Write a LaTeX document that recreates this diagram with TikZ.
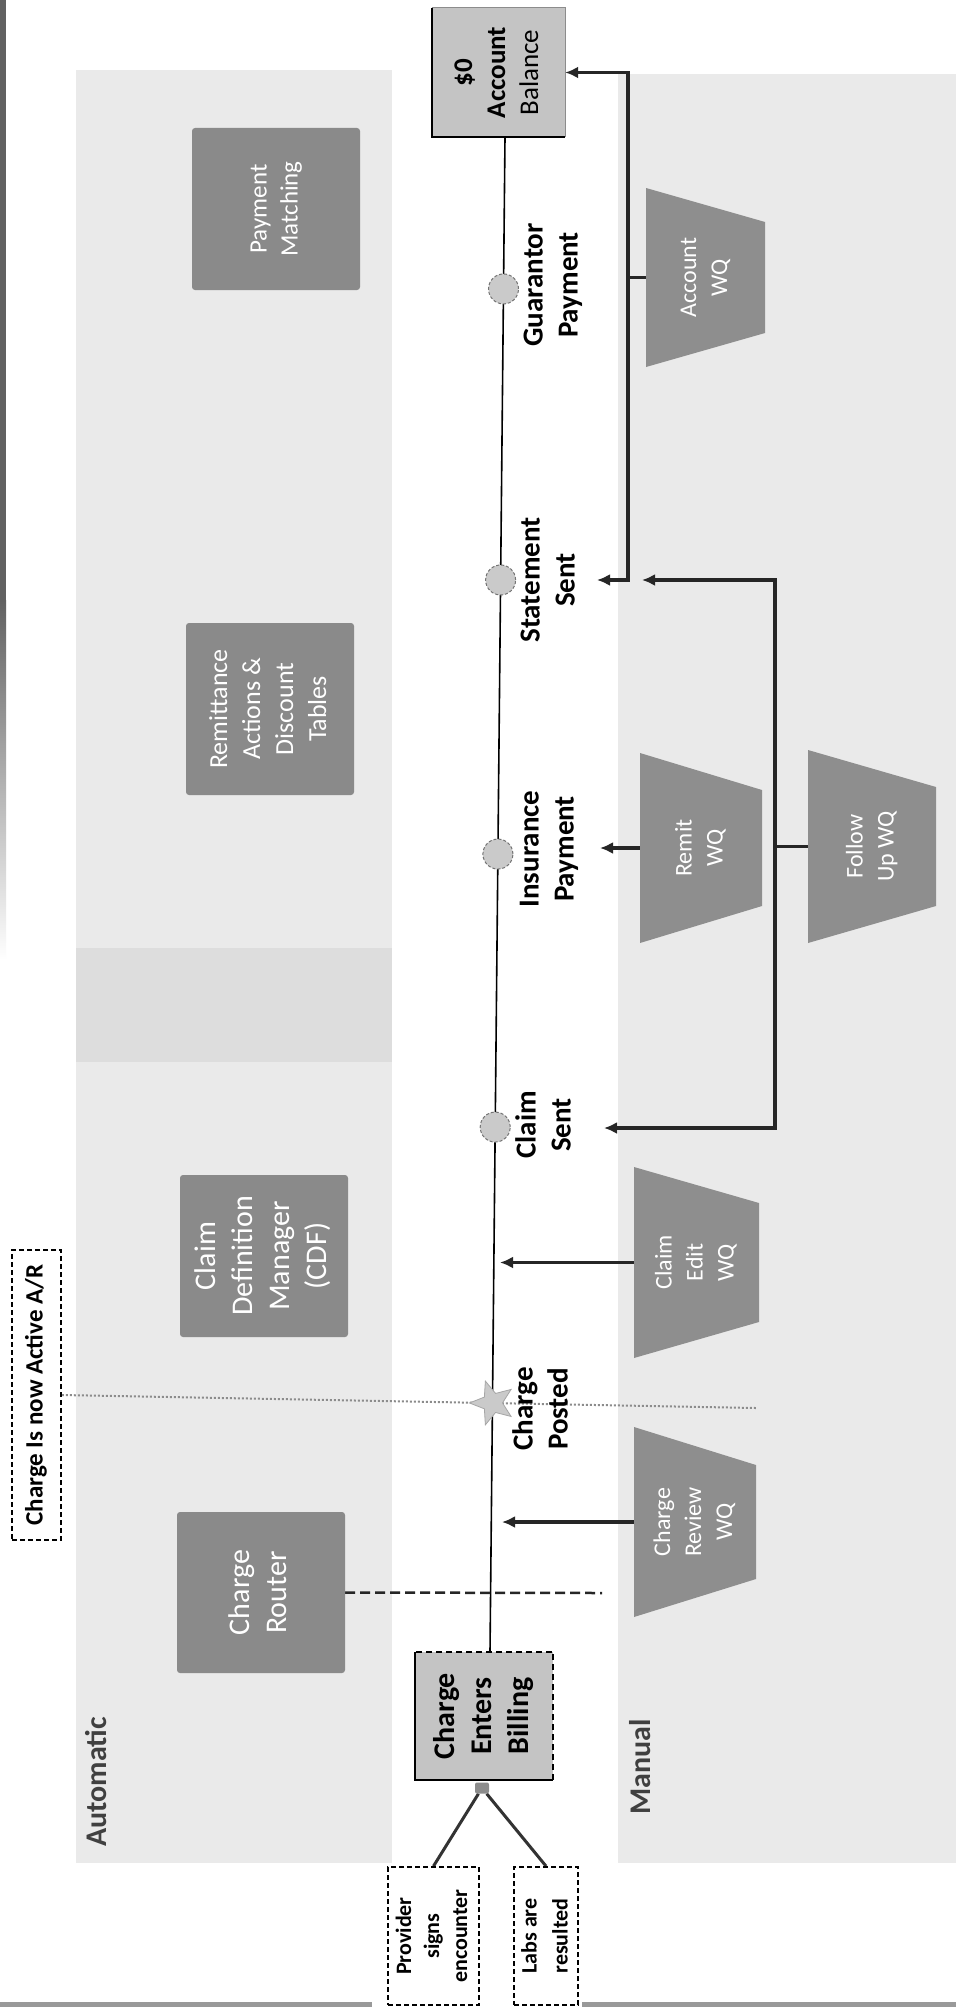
\documentclass[tikz,border=0pt]{standalone}
\usepackage{graphicx}
\usepackage{fontspec}
\setmainfont{Carlito}
\usetikzlibrary{arrows.meta,shapes.geometric,calc}
\pgfdeclarelayer{bg}
\pgfsetlayers{bg,main}
\definecolor{boxgray}{RGB}{138,138,138}
\definecolor{trapgray}{RGB}{142,142,142}
\definecolor{lanegray}{RGB}{234,234,234}
\definecolor{laneband}{RGB}{221,221,221}
\definecolor{lightbox}{RGB}{196,196,196}
\definecolor{msgray}{RGB}{202,202,202}
\newcommand{\rtxt}[1]{\rotatebox{90}{\begin{tabular}{@{}c@{}}#1\end{tabular}}}
\begin{document}
\begin{tikzpicture}[x=1pt,y=-1pt,
  autobox/.style={fill=boxgray, rounded corners=3pt, text=white, inner sep=0pt},
  trapwq/.style={inner sep=0pt, text=white,
    path picture={\fill[trapgray] (path picture bounding box.south west) -- (path picture bounding box.north west) -- ([yshift=-#1]path picture bounding box.north east) -- ([yshift=#1]path picture bounding box.south east) -- cycle;}},
  dashbox/.style={draw=black, dashed, dash pattern=on 5pt off 3pt, line width=1.8pt, fill=white, inner sep=0pt},
  msdot/.style={circle, fill=msgray, draw=black!55, dashed, dash pattern=on 3pt off 2pt, line width=1pt, minimum size=30pt, inner sep=0pt},
  mslabel/.style={inner sep=0pt, font=\bfseries\fontsize{29}{35}\selectfont},
  arr/.style={line width=3.5pt, draw=black!85, -{Latex[length=13pt,width=12pt]}},
  conn/.style={line width=3.5pt, draw=black!85},
  timeline/.style={line width=1.6pt, draw=black},
  lanelabel/.style={inner sep=0pt, text=black!75, font=\bfseries\fontsize{30}{36}\selectfont}
]
\useasboundingbox (0,0) rectangle (956,2007);

% ---------- nodes ----------
% Automatic lane boxes
\node[autobox, minimum width=168pt, minimum height=162pt] (pm) at (276,209)
  {\fontsize{25}{31}\selectfont\rtxt{Payment\\Matching}};
\node[autobox, minimum width=168pt, minimum height=172pt] (rem) at (270,709)
  {\fontsize{26}{33}\selectfont\rtxt{Remittance\\Actions \&\\Discount\\Tables}};
\node[autobox, minimum width=168pt, minimum height=162pt] (cdf) at (264,1256)
  {\fontsize{30}{37}\selectfont\rtxt{Claim\\Definition\\Manager\\(CDF)}};
\node[autobox, minimum width=168pt, minimum height=161pt] (cr) at (261,1592.5)
  {\fontsize{30}{37}\selectfont\rtxt{Charge\\Router}};

% Manual lane work queues
\node[trapwq=34pt, minimum width=119pt, minimum height=179pt] (awq) at (705.5,277.5)
  {\fontsize{24}{31}\selectfont\rtxt{Account\\WQ}};
\node[trapwq=37pt, minimum width=122pt, minimum height=190pt] (rwq) at (701,848)
  {\fontsize{24}{31}\selectfont\rtxt{Remit\\WQ}};
\node[trapwq=37pt, minimum width=128pt, minimum height=193pt] (fwq) at (872,846.5)
  {\fontsize{24}{31}\selectfont\rtxt{Follow\\Up WQ}};
\node[trapwq=36pt, minimum width=125pt, minimum height=191pt] (cewq) at (696.5,1262.5)
  {\fontsize{24}{31}\selectfont\rtxt{Claim\\Edit\\WQ}};
\node[trapwq=38pt, minimum width=122pt, minimum height=190pt] (crwq) at (695,1522)
  {\fontsize{24}{31}\selectfont\rtxt{Charge\\Review\\WQ}};

% Start / end boxes
\node[fill=lightbox, inner sep=0pt, minimum width=133pt, minimum height=129pt] (ab) at (498.5,72.5)
  {\fontsize{27}{33}\selectfont\rtxt{\textbf{\$0}\\\textbf{Account}\\Balance}};
\draw[line width=2pt] (ab.north west) -- (ab.south west) -- (ab.south east);
\draw[line width=1pt, black!45] (ab.north west) -- (ab.north east) -- (ab.south east);

\node[fill=lightbox, inner sep=0pt, minimum width=138pt, minimum height=128pt] (ceb) at (484,1716)
  {\bfseries\fontsize{30}{37}\selectfont\rtxt{Charge\\Enters\\Billing}};
\draw[line width=2pt] (ceb.north west) -- (ceb.south west) -- (ceb.south east);
\draw[line width=1.6pt, dashed, dash pattern=on 6pt off 4pt] (ceb.south east) -- (ceb.north east) -- (ceb.north west);

\node[dashbox, minimum width=91pt, minimum height=138pt] (prov) at (433.5,1936)
  {\bfseries\fontsize{22}{28}\selectfont\rtxt{Provider\\signs\\encounter}};
\node[dashbox, minimum width=64pt, minimum height=138pt] (labs) at (546,1936)
  {\bfseries\fontsize{22}{31}\selectfont\rtxt{Labs are\\resulted}};
\node[dashbox, minimum width=49pt, minimum height=290pt] (ciar) at (36.5,1395)
  {\bfseries\fontsize{25}{30}\selectfont\rtxt{Charge Is now Active A/R}};

\node[fill=black!45, rounded corners=2pt, minimum width=14pt, minimum height=11pt, inner sep=0pt] (jd) at (482,1788) {};

% lane labels
\node[lanelabel] (autol) at (96,1782) {\rotatebox{90}{Automatic}};
\node[lanelabel] (manl) at (640,1767) {\rotatebox{90}{Manual}};

% timeline milestones
\coordinate (tltop) at (505,137);
\coordinate (tlbot) at (490,1652);
\node[msdot] (gp) at ($(tltop)!0.1003!(tlbot)$) {};
\node[msdot] (ss) at ($(tltop)!0.2924!(tlbot)$) {};
\node[msdot] (ip) at ($(tltop)!0.4733!(tlbot)$) {};
\node[msdot] (cs) at ($(tltop)!0.6535!(tlbot)$) {};
\node[star, star points=5, star point ratio=2.3, minimum size=46pt, inner sep=0pt,
  fill=msgray, draw=black!35, line width=0.8pt, shape border rotate=90] (cp) at ($(tltop)!0.8356!(tlbot)$) {};

\node[mslabel] (gpl) at (553,285) {\rtxt{Guarantor\\Payment}};
\node[mslabel] (ssl) at (550,580) {\rtxt{Statement\\Sent}};
\node[mslabel] (ipl) at (549,849) {\rtxt{Insurance\\Payment}};
\node[mslabel] (csl) at (546,1125) {\rtxt{Claim\\Sent}};
\node[mslabel] (cpl) at (543,1409) {\rtxt{Charge\\Posted}};

% ---------- background layer ----------
\begin{pgfonlayer}{bg}
  \fill[white] (0,0) rectangle (956,2007);
  \fill[black!62] (0,0) rectangle (6,600);
  \shade[top color=black!62, bottom color=white] (0,600) rectangle (6,960);
  \fill[black!40] (0,2002) rectangle (372,2007);
  \fill[black!40] (582,2002) rectangle (956,2007);
  \fill[lanegray] (76,70) rectangle (392,1863);
  \fill[laneband] (76,948) rectangle (392,1062);
  \fill[lanegray] (618,74) rectangle (956,1863);
  \draw[timeline] (tltop) -- (tlbot);
  \coordinate (dotend) at (756,1408);
  \draw[black!45, line width=2pt, dotted] (ciar.east) -- (dotend);
  \coordinate (dashend) at (602,1593);
  \draw[black!85, line width=2.5pt, dashed, dash pattern=on 10pt off 5pt] (cr.east) -- (dashend);
  \draw[black!80, line width=3pt] (jd) -- (prov.north);
  \draw[black!80, line width=3pt] (jd) -- (labs.north);
\end{pgfonlayer}

% ---------- connectors ----------
\coordinate (jA) at (628,277.5);
\draw[conn] (awq.west) -- (jA);
\draw[arr] (jA) |- (ab.east);
\coordinate (tipSSa) at (597,580);
\draw[arr] (jA) |- (tipSSa);

\coordinate (jF) at (775,846.5);
\draw[conn] (fwq.west) -- (jF);
\coordinate (tipSSb) at (642,580);
\draw[arr] (jF) |- (tipSSb);
\coordinate (tipCS) at (604,1128);
\draw[arr] (jF) |- (tipCS);

\coordinate (tipIP) at (600,848);
\draw[arr] (rwq.west) -- (tipIP);
\coordinate (tipCE) at (500,1262.5);
\draw[arr] (cewq.west) -- (tipCE);
\coordinate (tipCR) at (502,1522);
\draw[arr] (crwq.west) -- (tipCR);
\end{tikzpicture}
\end{document}
